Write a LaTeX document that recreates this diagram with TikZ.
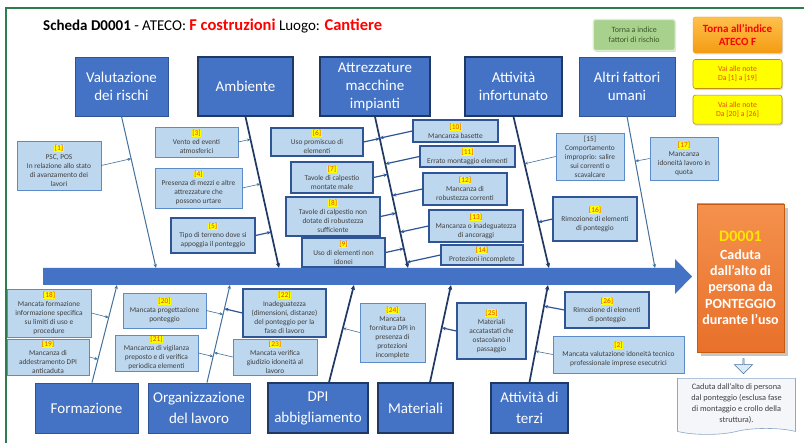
\documentclass[tikz,border=0pt]{standalone}
\usepackage{fontspec}
\setmainfont{Carlito}
\usetikzlibrary{arrows.meta, positioning, calc, shadows, shapes.arrows, shapes.symbols}

\definecolor{catblue}{HTML}{4472C4}
\definecolor{catline}{HTML}{2F5597}
\definecolor{navyline}{HTML}{1F3864}
\definecolor{steelline}{HTML}{41719C}
\definecolor{causefill}{HTML}{BDD7EE}
\definecolor{causeline}{HTML}{5B8BC9}
\definecolor{causetext}{HTML}{404040}
\definecolor{numred}{HTML}{E8400C}
\definecolor{hlyellow}{HTML}{FFFF00}
\definecolor{titlered}{HTML}{FF0000}
\definecolor{framegreen}{HTML}{2E7D4F}
\definecolor{btngreen}{HTML}{A9D18E}
\definecolor{btngreentext}{HTML}{385723}
\definecolor{btnyellowline}{HTML}{BF9000}
\definecolor{btnorangetext}{HTML}{E8500C}
\definecolor{btnotop}{HTML}{FFC04D}
\definecolor{btnobot}{HTML}{F39C12}
\definecolor{efftop}{HTML}{F4914D}
\definecolor{effbot}{HTML}{E8702A}
\definecolor{effline}{HTML}{C55A11}
\definecolor{effyellow}{HTML}{FFE600}
\definecolor{notefill}{HTML}{F4F6FA}
\definecolor{noteline}{HTML}{8EA9C8}
\definecolor{downfill}{HTML}{DEEBF7}

\newcommand{\causenr}[1]{{\setlength{\fboxsep}{0.4pt}\colorbox{hlyellow}{\textcolor{numred}{[#1]}}}}

\begin{document}
\begin{tikzpicture}[
    x=1pt, y=-1pt, node distance=6pt and 17pt,
    cat_block/.style={rectangle, draw=catline, line width=0.8pt, fill=catblue, text=white, align=center, font=\fontsize{15}{18}\selectfont, inner sep=1pt, minimum height=59pt},
    cat_dark/.style={cat_block, draw=navyline, line width=1.5pt},
    low_block/.style={cat_block, minimum height=50pt, font=\fontsize{15}{21}\selectfont},
    low_dark/.style={cat_dark, minimum height=50pt, font=\fontsize{15}{21}\selectfont},
    cause_block/.style={rectangle, draw=causeline, line width=0.6pt, fill=causefill, text=causetext, align=center, font=\fontsize{7.4}{9}\selectfont, inner sep=1pt},
    cause_dark/.style={cause_block, draw=catline, line width=1.2pt},
    spine_thin/.style={-{Stealth[length=4pt, width=3.5pt]}, steelline, line width=1pt},
    spine_thick/.style={-{Stealth[length=5pt, width=4.5pt]}, navyline, line width=1.7pt},
    link_thin/.style={-{Stealth[length=3.5pt, width=3pt]}, steelline, line width=0.6pt},
    link_thick/.style={-{Stealth[length=4pt, width=3.5pt]}, catline, line width=1.2pt},
    btn_block/.style={rectangle, rounded corners=2.5pt, align=center, minimum width=89pt, inner sep=1pt, drop shadow={shadow xshift=1pt, shadow yshift=-1.5pt, opacity=0.3}},
    note_btn/.style={btn_block, fill=hlyellow, draw=btnyellowline, line width=0.6pt, minimum height=29pt, font=\fontsize{7.8}{9.5}\selectfont, text=btnorangetext},
    effect_block/.style={rectangle, draw=effline, line width=0.8pt, top color=efftop, bottom color=effbot, text=white, align=center, font=\bfseries\fontsize{14}{16.4}\selectfont, minimum width=87pt, minimum height=148pt, drop shadow={shadow xshift=4pt, shadow yshift=-4pt, opacity=0.45}}
]
    % Frame and title
    \useasboundingbox (0,0) rectangle (804,443);
    \fill[white] (0,0) rectangle (804,443);
    \draw[framegreen, line width=1.2pt] (6,8) rectangle (830,470);
    \node[anchor=base west, inner sep=0pt] (title) at (43,31) {\fontsize{15}{17}\selectfont\textbf{Scheda D0001} - ATECO: {\fontsize{16.5}{18}\selectfont\bfseries\textcolor{titlered}{F costruzioni}} Luogo: {\fontsize{16.5}{18}\selectfont\bfseries\textcolor{titlered}{Cantiere}}};

    % Buttons
    \node[btn_block, top color=btnotop, bottom color=btnobot, draw=btnobot, minimum height=36pt, font=\bfseries\fontsize{11}{13}\selectfont, text=titlered] (orng) at (737.5,35) {Torna all’indice\\ATECO F};
    \node[btn_block, left=17pt of orng, fill=btngreen, draw=white!60!btngreen, line width=1.2pt, minimum width=82pt, minimum height=31pt, font=\fontsize{8}{9.5}\selectfont, text=btngreentext] (green) {Torna a indice\\fattori di rischio};
    \node[note_btn, below=6pt of orng] (yel1) {Vai alle note\\Da [1] a [19]};
    \node[note_btn, below=6pt of yel1] (yel2) {Vai alle note\\Da [20] a [26]};

    % Main arrow
    \fill[catblue] (43,268) -- (675,268) -- (675,259) -- (692,276.5) -- (675,294) -- (675,285) -- (43,285) -- cycle;

    % Categories
    \node[cat_block, minimum width=93pt] (val) at (121.5,86.5) {Valutazione\\dei rischi};
    \node[cat_dark, minimum width=95pt] (amb) at (245.5,86.5) {Ambiente};
    \node[cat_dark, minimum width=110pt] (att) at (375,86.5) {Attrezzature\\macchine\\impianti};
    \node[cat_dark, minimum width=97pt] (aif) at (513.5,86.5) {Attività\\infortunato};
    \node[cat_block, minimum width=96pt] (alt) at (627,86.5) {Altri fattori\\umani};
    \node[low_block, minimum width=103pt] (form) at (86.5,408) {Formazione};
    \node[low_block, minimum width=102pt] (org) at (199,408) {Organizzazione\\del lavoro};
    \node[low_dark, minimum width=100pt] (dpi) at (318,408) {DPI\\abbigliamento};
    \node[low_dark, minimum width=75pt] (mat) at (415.5,408) {Materiali};
    \node[low_dark, minimum width=77pt] (ter) at (529.5,408) {Attività di\\terzi};

    \coordinate (val_end) at (156,268);
    \coordinate (amb_end) at (279,268);
    \coordinate (att_end) at (408,268);
    \coordinate (aif_end) at (549,268);
    \coordinate (alt_end) at (655,268);
    \coordinate (form_end) at (117,285);
    \coordinate (org_end) at (230,285);
    \coordinate (dpi_end) at (354,285);
    \coordinate (mat_end) at (451,285);
    \coordinate (ter_end) at (548,285);

    \draw[spine_thin] (val.south) -- (val_end);
    \draw[spine_thick] (amb.south) -- (amb_end);
    \draw[spine_thick] (att.south) -- (att_end);
    \draw[spine_thick] (aif.south) -- (aif_end);
    \draw[spine_thin] (alt.south) -- (alt_end);
    \draw[spine_thin] ([xshift=5.5pt]form.north) -- (form_end);
    \draw[spine_thin] ([xshift=8pt]org.north) -- (org_end);
    \draw[spine_thick] ([xshift=11pt]dpi.north) -- (dpi_end);
    \draw[spine_thick] ([xshift=14.5pt]mat.north) -- (mat_end);
    \draw[spine_thick] (ter.north) -- (ter_end);

    % Causes, upper half
    \node[cause_block, minimum width=84pt, minimum height=49pt] (c1) at (59,165.5) {\causenr{1}\\PSC, POS\\In relazione allo stato\\di avanzamento dei\\lavori};
    \node[cause_block, minimum width=83pt, minimum height=30pt] (c3) at (196.5,142) {\causenr{3}\\Vento ed eventi\\atmosferici};
    \node[cause_block, minimum width=87pt, minimum height=40pt] (c4) at (198.5,188) {\causenr{4}\\Presenza di mezzi e altre\\attrezzature che\\possono urtare};
    \node[cause_dark, minimum width=84pt, minimum height=35pt] (c5) at (213,235.5) {\causenr{5}\\Tipo di terreno dove si\\appoggia il ponteggio};
    \node[cause_dark, minimum width=92pt, minimum height=28pt] (c6) at (317,142) {\causenr{6}\\Uso promiscuo di\\elementi};
    \node[cause_dark, minimum width=82pt, minimum height=31pt] (c7) at (332,177.5) {\causenr{7}\\Tavole di calpestio\\montate male};
    \node[cause_dark, minimum width=94pt, minimum height=39pt] (c8) at (333,216.5) {\causenr{8}\\Tavole di calpestio non\\dotate di robustezza\\sufficiente};
    \node[cause_dark, minimum width=83pt, minimum height=29pt] (c9) at (343.5,252.5) {\causenr{9}\\Uso di elementi non\\idonei};
    \node[cause_dark, minimum width=85pt, minimum height=22pt] (c10) at (455.5,131) {\causenr{10}\\Mancanza basette};
    \node[cause_dark, minimum width=95pt, minimum height=21pt] (c11) at (467.5,156.5) {\causenr{11}\\Errato montaggio elementi};
    \node[cause_dark, minimum width=84pt, minimum height=32pt] (c12) at (465,189) {\causenr{12}\\Mancanza di\\robustezza correnti};
    \node[cause_dark, minimum width=94pt, minimum height=32pt] (c13) at (476,226) {\causenr{13}\\Mancanza o inadeguatezza\\di ancoraggi};
    \node[cause_dark, minimum width=82pt, minimum height=20pt] (c14) at (482,255) {\causenr{14}\\Protezioni incomplete};
    \node[cause_block, minimum width=68pt, minimum height=47pt] (c15) at (590,156.5) {[15]\\Comportamento\\improprio: salire\\sui correnti o\\scavalcare};
    \node[cause_dark, minimum width=84pt, minimum height=44pt] (c16) at (595,219) {\causenr{16}\\Rimozione di elementi\\di ponteggio};
    \node[cause_block, minimum width=68pt, minimum height=43pt] (c17) at (684,158.5) {\causenr{17}\\Mancanza\\idoneità lavoro in\\quota};

    % Causes, lower half
    \node[cause_block, minimum width=84pt, minimum height=48pt] (c18) at (49,313) {\causenr{18}\\Mancata formazione\\informazione specifica\\su limiti di uso e\\procedure};
    \node[cause_block, minimum width=82pt, minimum height=36pt] (c19) at (48,357) {\causenr{19}\\Mancanza di\\addestramento DPI\\anticaduta};
    \node[cause_block, minimum width=83pt, minimum height=35pt] (c20) at (164.5,310.5) {\causenr{20}\\Mancata progettazione\\ponteggio};
    \node[cause_block, minimum width=83pt, minimum height=36pt] (c21) at (156.5,353) {\causenr{21}\\Mancanza di vigilanza\\preposto e di verifica\\periodica elementi};
    \node[cause_dark, minimum width=83pt, minimum height=48pt] (c22) at (284.5,313) {\causenr{22}\\Inadeguatezza\\(dimensioni, distanze)\\del ponteggio per la\\fase di lavoro};
    \node[cause_block, minimum width=84pt, minimum height=36pt] (c23) at (275,357) {\causenr{23}\\Mancata verifica\\giudizio idoneità al\\lavoro};
    \node[cause_block, minimum width=65pt, minimum height=59pt] (c24) at (392.5,332.5) {\causenr{24}\\Mancata\\fornitura DPI in\\presenza di\\protezioni\\incomplete};
    \node[cause_dark, minimum width=69pt, minimum height=56pt] (c25) at (491.5,331) {\causenr{25}\\Materiali\\accatastati che\\ostacolano il\\passaggio};
    \node[cause_dark, minimum width=84pt, minimum height=36pt] (c26) at (607,310) {\causenr{26}\\Rimozione di elementi\\di ponteggio};
    \node[cause_block, minimum width=131pt, minimum height=37pt] (c2) at (618.5,354.5) {\causenr{2}\\Mancata valutazione idoneità tecnico\\professionale imprese esecutrici};

    % Links to the spines
    \draw[link_thin] (c1.east) -- ($(val.south)!(c1.east)!(val_end)$);
    \draw[link_thin] (c3.east) -- ($(amb.south)!(c3.east)!(amb_end)$);
    \draw[link_thin] (c4.east) -- ($(amb.south)!(c4.east)!(amb_end)$);
    \draw[link_thick] (c5.east) -- ($(amb.south)!(c5.east)!(amb_end)$);
    \draw[link_thick] (c6.east) -- ($(att.south)!(c6.east)!(att_end)$);
    \draw[link_thick] (c7.east) -- ($(att.south)!(c7.east)!(att_end)$);
    \draw[link_thick] (c8.east) -- ($(att.south)!(c8.east)!(att_end)$);
    \draw[link_thick] (c9.east) -- ($(att.south)!(c9.east)!(att_end)$);
    \draw[link_thick] (c10.west) -- ($(att.south)!(c10.west)!(att_end)$);
    \draw[link_thick] (c11.west) -- ($(att.south)!(c11.west)!(att_end)$);
    \draw[link_thick] (c12.west) -- ($(att.south)!(c12.west)!(att_end)$);
    \draw[link_thick] (c13.west) -- ($(att.south)!(c13.west)!(att_end)$);
    \draw[link_thick] (c14.west) -- ($(att.south)!(c14.west)!(att_end)$);
    \draw[link_thin] (c15.west) -- ($(aif.south)!(c15.west)!(aif_end)$);
    \draw[link_thick] (c16.west) -- ($(aif.south)!(c16.west)!(aif_end)$);
    \draw[link_thin] (c17.west) -- ($(alt.south)!(c17.west)!(alt_end)$);
    \draw[link_thin] (c18.east) -- ($([xshift=5.5pt]form.north)!(c18.east)!(form_end)$);
    \draw[link_thin] (c19.east) -- ($([xshift=5.5pt]form.north)!(c19.east)!(form_end)$);
    \draw[link_thin] (c20.east) -- ($([xshift=8pt]org.north)!(c20.east)!(org_end)$);
    \draw[link_thin] (c21.east) -- ($([xshift=8pt]org.north)!(c21.east)!(org_end)$);
    \draw[link_thick] (c22.west) -- ($([xshift=8pt]org.north)!(c22.west)!(org_end)$);
    \draw[link_thin] (c23.west) -- ($([xshift=8pt]org.north)!(c23.west)!(org_end)$);
    \draw[link_thin] (c24.west) -- ($([xshift=11pt]dpi.north)!(c24.west)!(dpi_end)$);
    \draw[link_thick] (c25.west) -- ($([xshift=14.5pt]mat.north)!(c25.west)!(mat_end)$);
    \draw[link_thick] (c26.west) -- ($(ter.north)!(c26.west)!(ter_end)$);
    \draw[link_thin] (c2.west) -- ($(ter.north)!(c2.west)!(ter_end)$);

    % Effect
    \node[effect_block] (eff) at (740.5,278) {\textcolor{effyellow}{\fontsize{16}{18}\selectfont D0001}\\[1pt]Caduta\\dall’alto di\\persona da\\PONTEGGIO\\durante l’uso};
    \node[single arrow, shape border rotate=270, draw=steelline, fill=downfill, line width=0.6pt, minimum height=15pt, minimum width=18pt, single arrow head extend=4pt, inner sep=0pt, below=6pt of eff, xshift=3pt] (down) {};
    \node[tape, tape bend top=none, tape bend height=6pt, draw=noteline, fill=notefill, line width=0.6pt, minimum width=118pt, minimum height=56pt, align=center, text=causetext, font=\fontsize{8.3}{11}\selectfont, inner sep=1pt, below=4pt of down, xshift=-7pt] (note) {Caduta dall’alto di persona\\dal ponteggio (esclusa fase\\di montaggio e crollo della\\struttura).};

\end{tikzpicture}
\end{document}
